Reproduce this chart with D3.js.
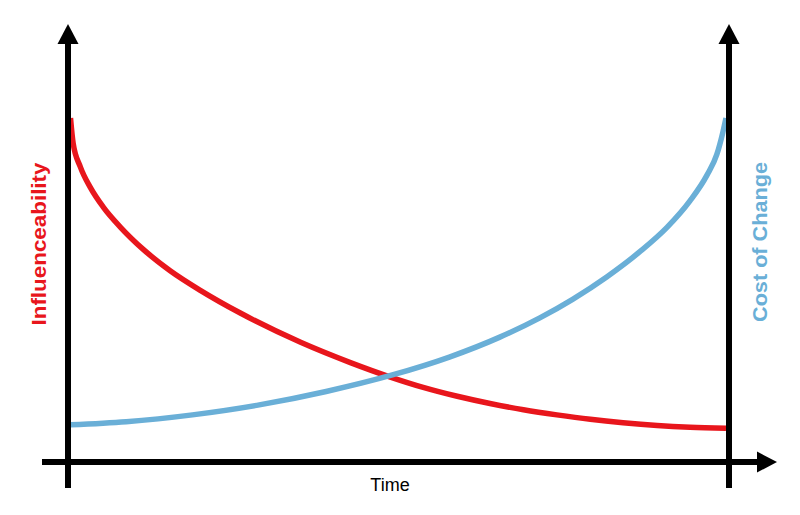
<!DOCTYPE html>
<html>
<head>
<meta charset="utf-8">
<script src="https://cdn.jsdelivr.net/npm/d3@7"></script>
<style>
html,body{margin:0;padding:0;background:#fff;}
svg{display:block;}
</style>
</head>
<body>
<svg id="chart" width="800" height="515"></svg>
<script>
// Time (0..100) and series values (0..100)
const influenceTime  = [0, 0.4, 1.5, 3.0, 5.0, 7.6, 11.1, 15.2, 19.8, 25.9, 35.1, 42.7, 48.8, 53.8, 59.0, 64.0, 69.1, 74.2, 79.3, 84.3, 89.5, 94.5, 100];
const influenceValue = [100, 92.7, 85.8, 79.9, 74.1, 68.3, 61.8, 55.6, 49.9, 43.3, 34.8, 28.9, 24.7, 21.7, 19.1, 17.0, 15.2, 13.7, 12.4, 11.4, 10.6, 10.1, 9.8];
const costTime  = [0, 8.5, 18.6, 28.8, 39.0, 49.1, 57.8, 65.5, 71.6, 76.6, 81.8, 86.9, 91.0, 94.5, 97.1, 98.6, 99.5, 100];
const costValue = [10.8, 11.7, 13.7, 16.6, 20.5, 25.3, 30.5, 36.3, 41.9, 47.3, 53.8, 61.2, 68.2, 75.9, 83.4, 89.4, 95.7, 100];
const labels = {left: "Influenceability", right: "Cost of Change", bottom: "Time"};

(function () {
const svg = d3.select("#chart");
const x = d3.scaleLinear().domain([0, 100]).range([70.5, 726]);
const y = d3.scaleLinear().domain([0, 100]).range([462, 118]);

const red = "#e8161c", blue = "#6aafd7";

const line = d3.line().x(d => x(d[0])).y(d => y(d[1])).curve(d3.curveMonotoneX);

svg.append("path")
  .datum(influenceTime.map((t, i) => [t, influenceValue[i]]))
  .attr("d", line).attr("fill", "none").attr("stroke", red).attr("stroke-width", 5.5);

svg.append("path")
  .datum(costTime.map((t, i) => [t, costValue[i]]))
  .attr("d", line).attr("fill", "none").attr("stroke", blue).attr("stroke-width", 5.5);

// Axes (arrows)
const xl = 68, xr = 729, yb = 462, yTop = 24, yBot = 488;
const ax = svg.append("g").attr("fill", "#000").attr("stroke", "none");
[xl, xr].forEach(cx => {
  ax.append("rect").attr("x", cx - 3).attr("y", yTop + 18).attr("width", 6).attr("height", yBot - yTop - 18);
  ax.append("path").attr("d", `M${cx},${yTop} L${cx - 10.5},${yTop + 20} L${cx + 10.5},${yTop + 20} Z`);
});
ax.append("rect").attr("x", 42).attr("y", yb - 3).attr("width", 758 - 42).attr("height", 6);
ax.append("path").attr("d", `M777,${yb} L757,${yb - 10.5} L757,${yb + 10.5} Z`);

// labels
svg.append("text")
  .attr("transform", "translate(46,244) rotate(-90)")
  .attr("text-anchor", "middle")
  .attr("font-family", "Liberation Sans, Arial, sans-serif")
  .attr("font-weight", "bold").attr("font-size", 20)
  .attr("textLength", 163).attr("lengthAdjust", "spacingAndGlyphs")
  .attr("fill", red).text(labels.left);

svg.append("text")
  .attr("transform", "translate(767,242) rotate(-90)")
  .attr("text-anchor", "middle")
  .attr("font-family", "Liberation Sans, Arial, sans-serif")
  .attr("font-weight", "bold").attr("font-size", 20)
  .attr("textLength", 160).attr("lengthAdjust", "spacingAndGlyphs")
  .attr("fill", blue).text(labels.right);

svg.append("text")
  .attr("x", 390).attr("y", 491)
  .attr("text-anchor", "middle")
  .attr("font-family", "Liberation Sans, Arial, sans-serif")
  .attr("font-size", 18)
  .attr("fill", "#000").text(labels.bottom);
})();
</script>
</body>
</html>
